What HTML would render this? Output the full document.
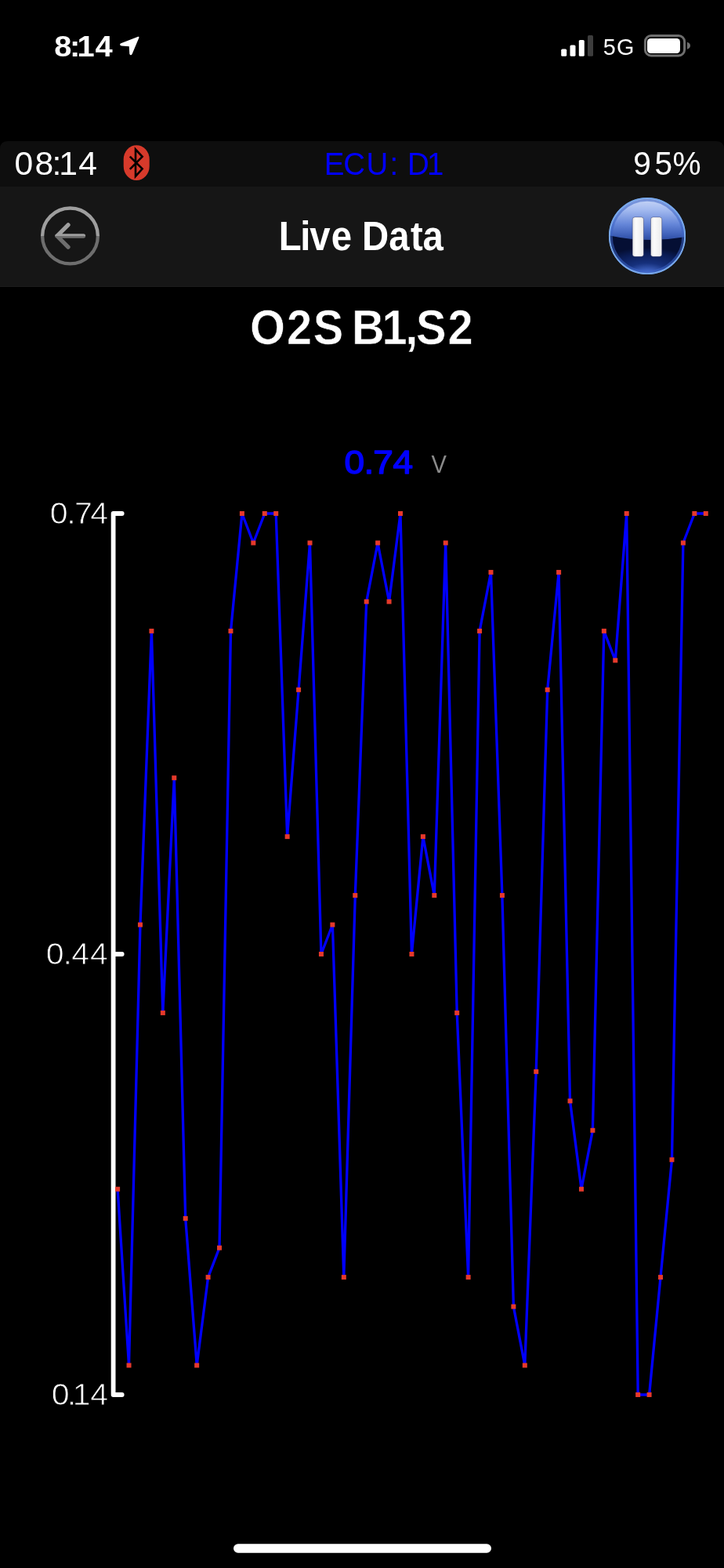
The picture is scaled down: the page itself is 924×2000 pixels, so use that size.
<!DOCTYPE html>
<html><head><meta charset="utf-8"><title>Live Data</title>
<style>
html,body{margin:0;padding:0;background:#000;width:924px;height:2000px;overflow:hidden}
svg{display:block}
text{font-family:"Liberation Sans", "DejaVu Sans", sans-serif}
</style></head>
<body>
<svg width="924" height="2000" viewBox="0 0 924 2000">
<defs>
  <linearGradient id="backg" x1="0" y1="0" x2="0" y2="1">
    <stop offset="0" stop-color="#9e9e9e"/><stop offset="0.5" stop-color="#9e9e9e"/>
    <stop offset="0.5" stop-color="#6e6e6e"/><stop offset="1" stop-color="#6e6e6e"/>
  </linearGradient>
  <linearGradient id="ptop" x1="0" y1="0" x2="0" y2="1">
    <stop offset="0" stop-color="#d0dcf8"/><stop offset="0.3" stop-color="#a2b9ef"/>
    <stop offset="0.62" stop-color="#6485d8"/><stop offset="0.88" stop-color="#3a5bb4"/><stop offset="1" stop-color="#2c4898"/>
  </linearGradient>
  <radialGradient id="pbot" cx="0.5" cy="1" r="0.7" fx="0.5" fy="1">
    <stop offset="0" stop-color="#86a4ee"/><stop offset="0.18" stop-color="#4064c4"/>
    <stop offset="0.45" stop-color="#16307c"/><stop offset="0.8" stop-color="#0a1c55"/><stop offset="1" stop-color="#050f34"/>
  </radialGradient>
  <linearGradient id="pbar" x1="0" y1="0" x2="1" y2="0">
    <stop offset="0" stop-color="#e6e6e6"/><stop offset="0.3" stop-color="#fbfbfb"/>
    <stop offset="1" stop-color="#ececec"/>
  </linearGradient>
  <clipPath id="pclip"><circle cx="826" cy="301" r="48"/></clipPath>
</defs>
<rect width="924" height="2000" fill="#000"/>

<!-- iOS status bar -->
<text transform="translate(0 71.8) scale(1.0605 1)" x="0" dx="65.21 -2.2 -3.58 0.98" y="0" font-size="37.54" font-weight="bold" fill="#fff">8:14</text>
<path d="M176.6,47.6 L154.6,56 Q153.2,57.2 155.2,57.6 L165.6,58.4 L166.2,68.6 Q166.9,70.2 167.8,68.6 Z" fill="#fff" stroke="#fff" stroke-width="1.8" stroke-linejoin="round"/>
<rect x="716.2" y="62.6" width="7" height="9.2" rx="1.6" fill="#fff"/>
<rect x="727.5" y="57.4" width="7" height="14.4" rx="1.6" fill="#fff"/>
<rect x="738.8" y="51" width="7" height="20.8" rx="1.6" fill="#fff"/>
<rect x="750" y="45" width="7" height="26.8" rx="1.6" fill="#3d3d3d"/>
<text transform="translate(0 70.3) scale(0.9495 1)" x="0" dx="810.63 1.36" y="0" font-size="30.29" fill="#fff">5G</text>
<rect x="823.4" y="45.6" width="50.2" height="25.4" rx="7.5" fill="none" stroke="#6e6e6e" stroke-width="3"/>
<rect x="826" y="49" width="42" height="19" rx="4.5" fill="#fff"/>
<path d="M877,53.8 Q881,55 881,58.3 Q881,61.6 877,62.8 Z" fill="#6e6e6e"/>

<!-- app top info bar -->
<path d="M0,190 Q0,180 10,180 L914,180 Q924,180 924,190 L924,237.5 L0,237.5 Z" fill="#0e0e0e"/>
<text transform="translate(0 223.3) scale(1.0143 1)" x="0" dx="18.16 2.27 -1.49 -3.06 1.03" y="0" font-size="42.03" fill="#fff">08:14</text>
<rect x="157.7" y="185.2" width="33" height="44.8" rx="16.5" ry="18" fill="#d73a2b"/>
<path d="M165.8,199.6 L181.6,215.4 L173,224.8 L173,190.6 L181.6,199.8 L165.8,215.8" fill="none" stroke="#000" stroke-width="2.6" stroke-linejoin="miter"/>
<text transform="translate(0 223.0) scale(0.928 1)" x="0" dx="445.84 -1.2 1.62 2.36 0.0 1.2 -3.08" y="0" font-size="41.45" fill="#0000ff">ECU: D1</text>
<text transform="translate(0 223.3) scale(0.9733 1)" x="0" dx="830.34 4.91 0.42" y="0" font-size="41.74" fill="#fff">95%</text>

<!-- nav bar -->
<rect x="0" y="237.5" width="924" height="128.5" fill="#161616"/>
<rect x="0" y="364.8" width="924" height="1.2" fill="#1c1c1c"/>
<circle cx="89.5" cy="300.9" r="35.4" fill="none" stroke="url(#backg)" stroke-width="4.3"/>
<path d="M87,286.8 L72.8,301 L87,315.2 M72.8,301 L106.5,301" fill="none" stroke="url(#backg)" stroke-width="5.3" stroke-linecap="round" stroke-linejoin="round"/>
<text transform="translate(0 318.6) scale(0.9225 1)" x="0" dx="385.64 -1.67 -1.16 1.26 0.0 -0.1 0.03 1.52 -0.35" y="0" font-size="51.3" font-weight="bold" fill="#fff">Live Data</text>

<!-- pause button -->
<circle cx="826" cy="301" r="49" fill="#5b8ae0"/>
<g clip-path="url(#pclip)">
  <rect x="776" y="251" width="100" height="57" fill="url(#ptop)"/>
  <path d="M776,300 Q826,311 876,302 L876,352 L776,352 Z" fill="url(#pbot)"/>
</g>
<circle cx="826" cy="301" r="45.8" fill="none" stroke="#3a62c4" stroke-opacity="0.55" stroke-width="3"/>
<circle cx="826" cy="301" r="48.1" fill="none" stroke="#78a8ea" stroke-width="1.9"/>
<rect x="807.2" y="276.9" width="14.2" height="50.4" rx="3" fill="url(#pbar)" stroke="#0a1240" stroke-opacity="0.45" stroke-width="0.8"/>
<rect x="830.5" y="276.9" width="14.2" height="50.4" rx="3" fill="url(#pbar)" stroke="#0a1240" stroke-opacity="0.45" stroke-width="0.8"/>

<!-- title -->
<text transform="translate(0 439.0) scale(0.9271 1)" x="0" dx="344.08 2.35 1.73 0.0 -5.86 -3.47 -2.49 -2.58 2.04" y="0" font-size="62.32" font-weight="bold" fill="#fff" stroke="#000" stroke-width="0.6" stroke-linejoin="round">O2S B1,S2</text>
<text transform="translate(0 604.25) scale(1.0948 1)" x="0" dx="401.47 -0.46 -0.96 -0.48" y="0" font-size="42.03" fill="#0000ff" stroke="#0000ff" stroke-width="1.5" stroke-linejoin="round">0.74</text>
<text transform="translate(0 603.1) scale(0.9491 1)" x="0" dx="579.98" y="0" font-size="30.72" fill="#8a8a8a">V</text>

<!-- chart axis -->
<path d="M155.7,655 L144.6,655 L144.6,1779 L155.7,1779 M144.6,1217 L155.7,1217" fill="none" stroke="#fff" stroke-width="5.8" stroke-linecap="round" stroke-linejoin="round"/>
<text transform="translate(0 667.9) scale(1.0469 1)" x="0" dx="60.79 -1.21 -1.68 -2.31" y="0" font-size="39.28" fill="#fff" stroke="#000" stroke-width="0.8" stroke-linejoin="round">0.74</text>
<text transform="translate(0 1230.0) scale(1.0578 1)" x="0" dx="55.54 -1.13 -0.61 0.95" y="0" font-size="38.84" fill="#fff" stroke="#000" stroke-width="0.8" stroke-linejoin="round">0.44</text>
<text transform="translate(0 1792.2) scale(1.0433 1)" x="0" dx="62.96 -2.69 -4.16 -0.33" y="0" font-size="39.42" fill="#fff" stroke="#000" stroke-width="0.8" stroke-linejoin="round">0.14</text>

<polyline points="150.1,1516.7 164.5,1741.5 179.0,1179.5 193.4,804.9 207.8,1291.9 222.3,992.2 236.7,1554.2 251.2,1741.5 265.6,1629.1 280.0,1591.7 294.5,804.9 308.9,655.0 323.3,692.5 337.8,655.0 352.2,655.0 366.6,1067.1 381.1,879.8 395.5,692.5 409.9,1217.0 424.4,1179.5 438.8,1629.1 453.3,1142.1 467.7,767.4 482.1,692.5 496.6,767.4 511.0,655.0 525.4,1217.0 539.9,1067.1 554.3,1142.1 568.7,692.5 583.2,1291.9 597.6,1629.1 612.1,804.9 626.5,729.9 640.9,1142.1 655.4,1666.6 669.8,1741.5 684.2,1366.9 698.7,879.8 713.1,729.9 727.5,1404.3 742.0,1516.7 756.4,1441.8 770.8,804.9 785.3,842.3 799.7,655.0 814.2,1779.0 828.6,1779.0 843.0,1629.1 857.5,1479.3 871.9,692.5 886.3,655.0 900.8,655.0" fill="none" stroke="#0000ff" stroke-width="3.3" stroke-linejoin="round"/>
<g fill="#e5392b"><rect x="147.10" y="1513.72" width="6" height="6"/><rect x="161.54" y="1738.51" width="6" height="6"/><rect x="175.97" y="1176.52" width="6" height="6"/><rect x="190.41" y="801.86" width="6" height="6"/><rect x="204.84" y="1288.92" width="6" height="6"/><rect x="219.28" y="989.19" width="6" height="6"/><rect x="233.72" y="1551.18" width="6" height="6"/><rect x="248.15" y="1738.51" width="6" height="6"/><rect x="262.59" y="1626.12" width="6" height="6"/><rect x="277.02" y="1588.65" width="6" height="6"/><rect x="291.46" y="801.86" width="6" height="6"/><rect x="305.90" y="652.00" width="6" height="6"/><rect x="320.33" y="689.47" width="6" height="6"/><rect x="334.77" y="652.00" width="6" height="6"/><rect x="349.20" y="652.00" width="6" height="6"/><rect x="363.64" y="1064.13" width="6" height="6"/><rect x="378.08" y="876.80" width="6" height="6"/><rect x="392.51" y="689.47" width="6" height="6"/><rect x="406.95" y="1213.99" width="6" height="6"/><rect x="421.38" y="1176.52" width="6" height="6"/><rect x="435.82" y="1626.12" width="6" height="6"/><rect x="450.26" y="1139.06" width="6" height="6"/><rect x="464.69" y="764.40" width="6" height="6"/><rect x="479.13" y="689.47" width="6" height="6"/><rect x="493.56" y="764.40" width="6" height="6"/><rect x="508.00" y="652.00" width="6" height="6"/><rect x="522.44" y="1213.99" width="6" height="6"/><rect x="536.87" y="1064.13" width="6" height="6"/><rect x="551.31" y="1139.06" width="6" height="6"/><rect x="565.74" y="689.47" width="6" height="6"/><rect x="580.18" y="1288.92" width="6" height="6"/><rect x="594.62" y="1626.12" width="6" height="6"/><rect x="609.05" y="801.86" width="6" height="6"/><rect x="623.49" y="726.93" width="6" height="6"/><rect x="637.92" y="1139.06" width="6" height="6"/><rect x="652.36" y="1663.58" width="6" height="6"/><rect x="666.80" y="1738.51" width="6" height="6"/><rect x="681.23" y="1363.85" width="6" height="6"/><rect x="695.67" y="876.80" width="6" height="6"/><rect x="710.10" y="726.93" width="6" height="6"/><rect x="724.54" y="1401.32" width="6" height="6"/><rect x="738.98" y="1513.72" width="6" height="6"/><rect x="753.41" y="1438.79" width="6" height="6"/><rect x="767.85" y="801.86" width="6" height="6"/><rect x="782.28" y="839.33" width="6" height="6"/><rect x="796.72" y="652.00" width="6" height="6"/><rect x="811.16" y="1775.98" width="6" height="6"/><rect x="825.59" y="1775.98" width="6" height="6"/><rect x="840.03" y="1626.12" width="6" height="6"/><rect x="854.46" y="1476.25" width="6" height="6"/><rect x="868.90" y="689.47" width="6" height="6"/><rect x="883.34" y="652.00" width="6" height="6"/><rect x="897.77" y="652.00" width="6" height="6"/></g>

<!-- home indicator -->
<rect x="298" y="1969.2" width="329" height="11.6" rx="5.8" fill="#fff"/>
</svg>
</body></html>
